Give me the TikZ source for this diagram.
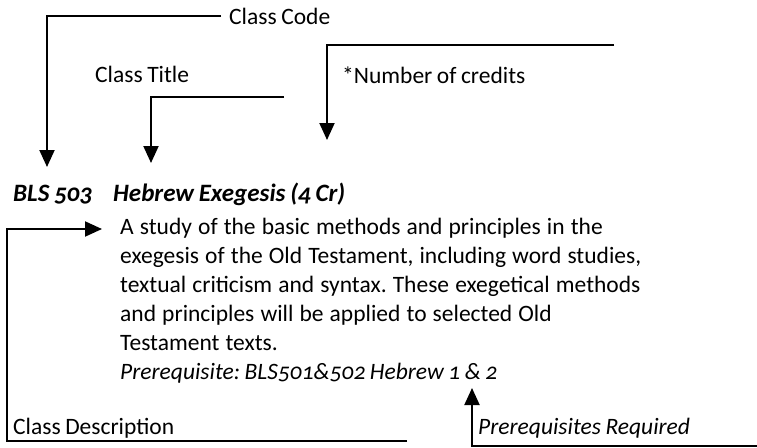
\documentclass[tikz,border=0pt]{standalone}
\usepackage{fontspec}
\setmainfont{Carlito}[Numbers=OldStyle, WordSpace=0.85]
\usepackage{tikz}
\usetikzlibrary{arrows.meta, positioning}
\frenchspacing

\tikzset{
  lbl/.style={inner sep=0pt, font=\fontsize{23.5}{29}\selectfont},
  head/.style={lbl, font=\fontsize{25}{29}\selectfont\bfseries\itshape},
  note/.style={lbl, font=\fontsize{23.5}{29}\selectfont\itshape},
  callout/.style={line width=2pt, -{Triangle[length=17pt, width=15pt]}},
}

\begin{document}
\begin{tikzpicture}[x=1pt, y=-1pt]
\useasboundingbox (0,0) rectangle (757,447);

% Nodes
\node (code) [head, anchor=base west] at (13,201) {BLS 503};
\node (title) [head, anchor=base west] at (113,201) {Hebrew Exegesis (4 Cr)};

\node (desc) [lbl, anchor=base west, text width=600pt, align=left] at (120,234)
  {\spaceskip=0.26em\relax
   A study of the basic methods and principles in the\\
   exegesis of the Old Testament, including word studies,\\
   textual criticism and syntax. These exegetical methods\\
   and principles will be applied to selected Old\\
   Testament texts.};
\node (prereq) [note, anchor=base west] at (120,379) {Prerequisite: BLS501\&502 Hebrew 1 \& 2};

\node (codelbl) [lbl, anchor=base west] at (229,24) {Class Code};
\node (titlelbl) [lbl, anchor=base west] at (95,82) {Class Title};
\node (credlbl) [lbl, anchor=base west] at (342,83) {*Number of credits};
\node (desclbl) [lbl, anchor=base west] at (13,434) {Class Description};
\node (prereqlbl) [note, anchor=base west] at (478,434) {Prerequisites Required};

% Free ends
\coordinate (codetip) at (47,167);
\coordinate (titlestart) at (284,97);
\coordinate (titletip) at (151,163);
\coordinate (credstart) at (614,45);
\coordinate (credtip) at (327,140);
\coordinate (descstart) at (407,441);
\coordinate (descleft) at (7,229);
\coordinate (desctip) at (102,229);
\coordinate (prereqstart) at (757,446);
\coordinate (prereqtip) at (472,388);

% Arrows
\draw [callout] ([xshift=-8pt]codelbl.west) -| (codetip);
\draw [callout] (titlestart) -| (titletip);
\draw [callout] (credstart) -| (credtip);
\draw [callout] (descstart) -| (descleft) -- (desctip);
\draw [callout] (prereqstart) -| (prereqtip);

\end{tikzpicture}
\end{document}
